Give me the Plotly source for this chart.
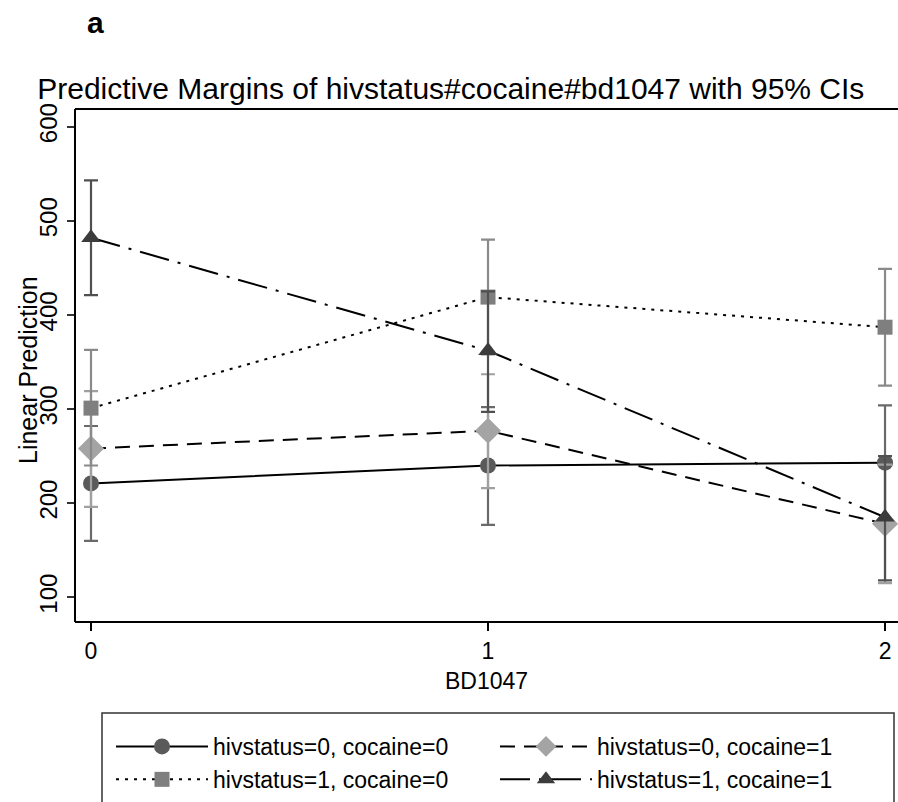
import plotly.graph_objects as go

# ---- data ----
bd1047 = [0, 1, 2]
series_names = [
    "hivstatus=0, cocaine=0",
    "hivstatus=0, cocaine=1",
    "hivstatus=1, cocaine=0",
    "hivstatus=1, cocaine=1",
]
h0c0 = [221, 240, 243]
h0c0_lo = [160, 177, 183]
h0c0_hi = [282, 302, 304]

h0c1 = [258, 277, 178]
h0c1_lo = [196, 216, 115]
h0c1_hi = [319, 337, 241]

h1c0 = [301, 419, 387]
h1c0_lo = [240, 358, 325]
h1c0_hi = [363, 480, 449]

h1c1 = [482, 362, 185]
h1c1_lo = [421, 297, 118]
h1c1_hi = [543, 425, 250]

y_ticks = [100, 200, 300, 400, 500, 600]
x_ticks = [0, 1, 2]

# ---- styles ----
styles = [
    dict(dash="solid", symbol="circle", msize=16, mcolor="#5a5a5a", ecolor="#6a6a6a"),
    dict(dash="15px,9px", symbol="diamond", msize=20, mcolor="#a4a4a4", ecolor="#a0a0a0"),
    dict(dash="3px,6px", symbol="square", msize=15, mcolor="#7f7f7f", ecolor="#8a8a8a"),
    dict(dash="30px,9px,3px,9px", symbol="triangle-up", msize=17, mcolor="#3c3c3c", ecolor="#505050"),
]
vals = [h0c0, h0c1, h1c0, h1c1]
los = [h0c0_lo, h0c1_lo, h1c0_lo, h1c1_lo]
his = [h0c0_hi, h0c1_hi, h1c0_hi, h1c1_hi]

FONT = "Liberation Sans, Arial, Helvetica, sans-serif"

W, H = 898, 802
L, R, T, B = 75, 0, 109, 180
PW, PH = W - L - R, H - T - B


def px(x):
    return (x - L) / PW


def py(y):
    return (H - B - y) / PH


fig = go.Figure()
for name, v, lo, hi, st in zip(series_names, vals, los, his, styles):
    fig.add_trace(go.Scatter(
        x=bd1047, y=v, name=name, mode="lines+markers",
        line=dict(color="black", width=2, dash=st["dash"]),
        marker=dict(symbol=st["symbol"], size=st["msize"], color=st["mcolor"],
                    line=dict(width=0)),
        error_y=dict(type="data", symmetric=False,
                     array=[h - c for h, c in zip(hi, v)],
                     arrayminus=[c - l for c, l in zip(v, lo)],
                     color=st["ecolor"], thickness=2.2, width=7),
    ))

frame = dict(color="black", width=2)
fig.update_layout(
    width=W, height=H,
    margin=dict(l=L, r=R, t=T, b=B, autoexpand=False),
    paper_bgcolor="white", plot_bgcolor="white",
    font=dict(family=FONT, color="black"),
    title=dict(text="Predictive Margins of hivstatus#cocaine#bd1047 with 95% CIs",
               font=dict(size=30, family=FONT, color="black"),
               xref="container", x=0.502, xanchor="center",
               yref="container", y=1 - 88 / H, yanchor="middle"),
    showlegend=True,
    legend=dict(
        orientation="h", xref="paper", yref="paper",
        x=px(111), y=py(725), xanchor="left", yanchor="top",
        entrywidth=277, entrywidthmode="pixels", itemwidth=92,
        font=dict(size=23, family=FONT, color="black"),
        borderwidth=0, bgcolor="rgba(0,0,0,0)",
        traceorder="normal", tracegroupgap=0,
    ),
    shapes=[
        dict(type="rect", xref="paper", yref="paper",
             x0=px(102), x1=px(894), y0=py(713), y1=py(815),
             line=dict(color="#333333", width=1.5), fillcolor="rgba(0,0,0,0)",
             layer="below"),
        # plot frame: left, bottom, top
        dict(type="line", xref="paper", yref="paper", x0=0, x1=0, y0=0, y1=1, line=frame),
        dict(type="line", xref="paper", yref="paper", x0=0, x1=1.01, y0=0, y1=0, line=frame),
        dict(type="line", xref="paper", yref="paper", x0=0, x1=1.01, y0=1, y1=1, line=frame),
    ],
    annotations=[
        dict(text="<b>a</b>", xref="paper", yref="paper",
             x=px(95), y=py(22), xanchor="center", yanchor="middle", showarrow=False,
             font=dict(size=30, family=FONT, color="black")),
        dict(text="Linear Prediction", xref="paper", yref="paper",
             x=px(28), y=py(370), xanchor="center", yanchor="middle", showarrow=False,
             textangle=-90, font=dict(size=25, family=FONT, color="black")),
    ],
)

fig.update_xaxes(
    range=[-0.0403, 2.0327], tickvals=x_ticks, ticktext=[str(t) for t in x_ticks],
    showline=False,
    ticks="outside", ticklen=8, tickwidth=2, tickcolor="black",
    showgrid=False, zeroline=False,
    tickfont=dict(size=23, family=FONT, color="black"),
    title=dict(text="BD1047", font=dict(size=23, family=FONT, color="black"), standoff=10),
)
fig.update_yaxes(
    range=[73.7, 618.9], tickvals=y_ticks, ticktext=[str(t) for t in y_ticks],
    showline=False,
    ticks="outside", ticklen=7, tickwidth=2, tickcolor="#333333", tickangle=-90,
    showgrid=False, zeroline=False,
    tickfont=dict(size=24, family=FONT, color="black"),
)

fig.write_html(
    "out.html",
    config={"displayModeBar": False},
    post_script="document.body.style.margin='0';document.body.style.overflow='hidden';",
)
